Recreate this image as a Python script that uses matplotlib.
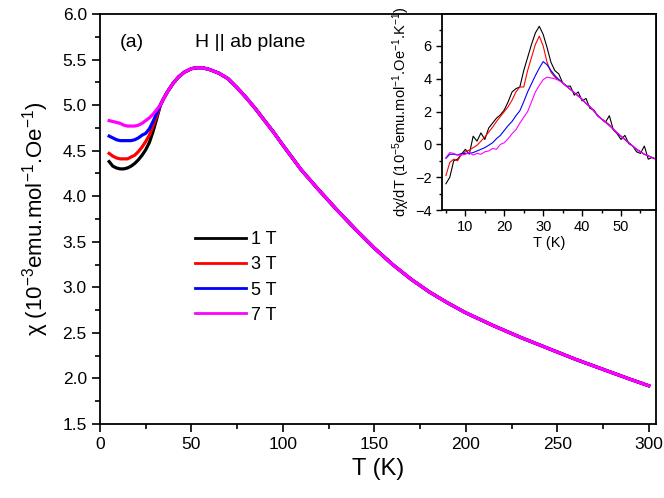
import matplotlib
matplotlib.use("Agg")
import matplotlib.pyplot as plt
import numpy as np
from matplotlib.ticker import MultipleLocator

plt.rcParams["font.family"] = ["Liberation Sans", "DejaVu Sans"]
plt.rcParams["mathtext.fontset"] = "custom"
plt.rcParams["mathtext.rm"] = "Liberation Sans"
plt.rcParams["mathtext.it"] = "Liberation Sans:italic"

# Main panel: susceptibility vs temperature
# low temperature part, one per field
T_low = [5, 7, 9, 11, 13, 15, 17, 19, 21, 23, 25, 27, 29, 31]
chi_1T = [4.38, 4.33, 4.31, 4.30, 4.30, 4.31, 4.33, 4.36, 4.40, 4.45, 4.51, 4.59, 4.71, 4.85]
chi_3T = [4.47, 4.44, 4.42, 4.41, 4.41, 4.41, 4.43, 4.45, 4.49, 4.54, 4.60, 4.67, 4.77, 4.88]
chi_5T = [4.66, 4.64, 4.62, 4.61, 4.61, 4.61, 4.61, 4.62, 4.64, 4.67, 4.69, 4.74, 4.82, 4.91]
chi_7T = [4.83, 4.82, 4.81, 4.80, 4.78, 4.77, 4.77, 4.77, 4.78, 4.80, 4.83, 4.86, 4.90, 4.95]
# common part above ~33 K
T_high = [33, 35, 37, 40, 43, 46, 50, 53, 56, 60, 65, 70, 75, 80, 85, 90, 95, 100,
          110, 120, 130, 140, 150, 160, 170, 180, 190, 200, 215, 230, 245, 260,
          275, 290, 300]
chi_high = [5.00, 5.08, 5.15, 5.24, 5.31, 5.36, 5.40, 5.41, 5.41, 5.39, 5.35, 5.29,
            5.19, 5.08, 4.96, 4.83, 4.70, 4.56, 4.29, 4.06, 3.84, 3.63, 3.43, 3.25,
            3.09, 2.95, 2.83, 2.72, 2.58, 2.45, 2.33, 2.21, 2.10, 1.99, 1.92]

fields = ["1 T", "3 T", "5 T", "7 T"]
colors = ["black", "red", "blue", "magenta"]
chi_low = [chi_1T, chi_3T, chi_5T, chi_7T]

# Inset: dchi/dT
T_d = list(range(5, 60))
d_1T = [-2.4, -2.0, -1.0, -0.9, -0.6, -0.3, -0.6, 0.5, 0.2, 0.7, 0.3, 1.0, 1.3, 1.6, 1.8,
        2.1, 2.6, 3.2, 3.4, 3.5, 4.5, 5.3, 6.1, 6.8, 7.2, 6.7, 5.9, 5.0, 4.5, 4.3,
        3.75, 3.55, 3.55, 3.0, 3.2, 2.65, 2.8, 2.2, 2.1, 1.75, 1.55, 1.35, 1.75, 0.9,
        0.65, 0.3, 0.55, 0.05, -0.1, -0.45, -0.55, -0.1, -0.9, -0.8, -0.9]
d_3T = [-1.9, -1.1, -0.9, -1.0, -0.6, -0.45, -0.35, -0.2, -0.05, 0.2, 0.45, 0.75, 1.05,
        1.4, 1.7, 2.0, 2.3, 2.7, 3.2, 3.5, 3.5, 4.5, 5.3, 6.1, 6.6, 6.0, 5.0, 4.4, 4.1,
        3.95, 3.75, 3.55, 3.35, 3.15, 2.95, 2.75, 2.5, 2.3, 2.05, 1.75, 1.55, 1.4, 1.2,
        0.9, 0.7, 0.5, 0.3, 0.1, -0.1, -0.3, -0.45, -0.6, -0.7, -0.8, -0.9]
d_5T = [-0.85, -0.6, -0.6, -0.65, -0.55, -0.55, -0.55, -0.5, -0.4, -0.3, -0.2, -0.05,
        0.1, 0.35, 0.55, 0.85, 1.15, 1.4, 1.75, 2.05, 2.6, 3.2, 3.7, 4.2, 4.65, 5.05,
        4.85, 4.5, 4.2, 3.95, 3.75, 3.55, 3.35, 3.15, 2.95, 2.75, 2.5, 2.3, 2.05, 1.75,
        1.55, 1.35, 1.15, 0.95, 0.7, 0.5, 0.3, 0.1, -0.1, -0.3, -0.45, -0.6, -0.7,
        -0.8, -0.9]
d_7T = [-0.8, -0.5, -0.55, -0.65, -0.65, -0.6, -0.5, -0.65, -0.55, -0.6, -0.45, -0.4,
        -0.25, -0.3, 0.0, 0.1, 0.35, 0.65, 0.9, 1.3, 1.65, 2.0, 2.6, 3.2, 3.6, 3.95,
        4.1, 4.05, 4.0, 3.9, 3.75, 3.55, 3.35, 3.15, 2.95, 2.75, 2.5, 2.3, 2.05, 1.75,
        1.55, 1.35, 1.15, 0.95, 0.7, 0.5, 0.3, 0.1, -0.1, -0.3, -0.45, -0.6, -0.7,
        -0.8, -0.9]
d_all = [d_1T, d_3T, d_5T, d_7T]

fig = plt.figure(figsize=(6.64, 4.98), dpi=100)
ax = fig.add_axes([0.1506, 0.1486, 0.8374, 0.8233])
for lab, col, low in zip(fields, colors, chi_low):
    ax.plot(T_low + T_high, low + chi_high, color=col, lw=2.3, label=lab)

ax.set_xlim(0, 304)
ax.set_ylim(1.5, 6.0)
ax.xaxis.set_major_locator(MultipleLocator(50))
ax.xaxis.set_minor_locator(MultipleLocator(25))
ax.yaxis.set_major_locator(MultipleLocator(0.5))
ax.yaxis.set_minor_locator(MultipleLocator(0.25))
ax.tick_params(which="both", direction="out", top=False, right=False, labelsize=12.5, width=1.2)
ax.tick_params(which="major", length=6)
ax.tick_params(which="minor", length=3.5)
ax.yaxis.set_major_formatter(matplotlib.ticker.FormatStrFormatter("%.1f"))
for s in ax.spines.values():
    s.set_linewidth(1.3)
ax.set_xlabel("T (K)", fontsize=17, labelpad=4)
ax.set_ylabel("χ (10$^{-3}$emu.mol$^{-1}$.Oe$^{-1}$)", fontsize=16, labelpad=8)
ax.text(0.036, 0.92, "(a)", transform=ax.transAxes, fontsize=14)
ax.text(0.17, 0.92, "H || ab plane", transform=ax.transAxes, fontsize=14)
leg = ax.legend(loc="upper left", bbox_to_anchor=(0.171, 0.47), frameon=False, fontsize=13,
                handlelength=2.8, handletextpad=0.3, labelspacing=0.45, borderpad=0,
                borderaxespad=0)
for h in leg.get_lines():
    h.set_linewidth(2.0)

# inset
ins = fig.add_axes([0.6657, 0.5783, 0.3223, 0.3936])
for col, d in zip(colors, d_all):
    ins.plot(T_d, d, color=col, lw=0.8)
ins.set_xlim(4, 59)
ins.set_ylim(-4, 7.95)
ins.xaxis.set_major_locator(MultipleLocator(10))
ins.xaxis.set_minor_locator(MultipleLocator(5))
ins.yaxis.set_major_locator(MultipleLocator(2))
ins.yaxis.set_minor_locator(MultipleLocator(1))
ins.tick_params(which="both", direction="out", top=False, right=False, labelsize=10.5, width=1)
ins.tick_params(which="major", length=4)
ins.tick_params(which="minor", length=2.5)
for s in ins.spines.values():
    s.set_linewidth(1.3)
ins.set_xlabel("T (K)", fontsize=10.5, labelpad=1)
ins.set_ylabel("dχ/dT (10$^{-5}$emu.mol$^{-1}$.Oe$^{-1}$.K$^{-1}$)", fontsize=10.5, labelpad=2)

fig.savefig("out.png", dpi=100)
